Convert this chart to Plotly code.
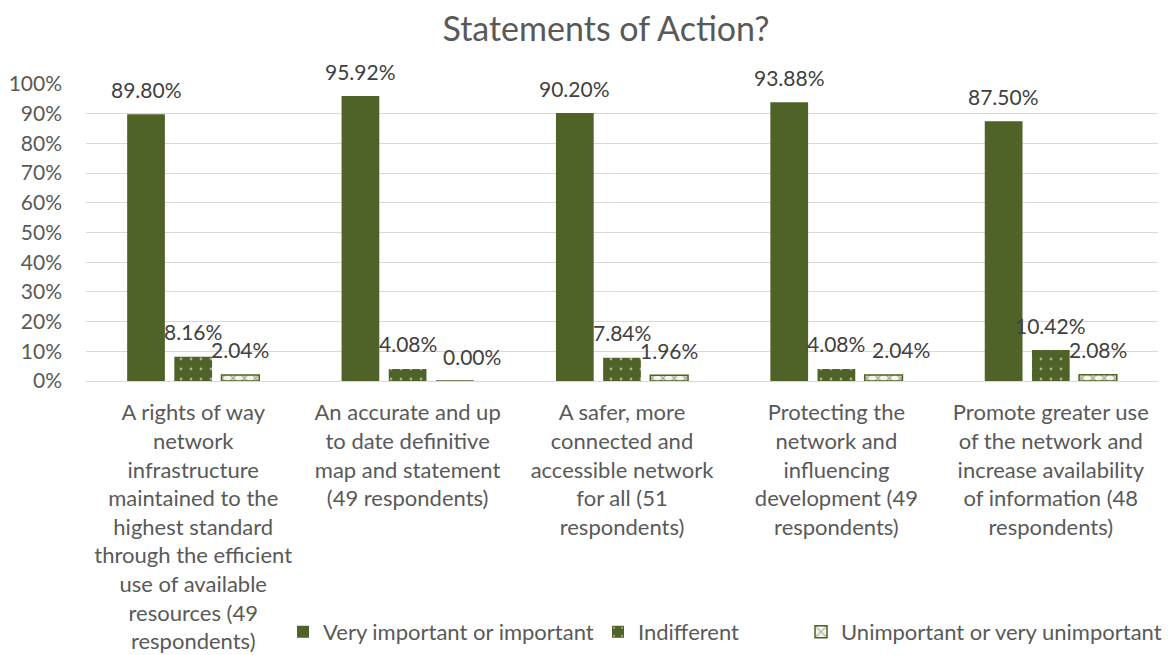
import plotly.graph_objects as go

categories = [
    "A rights of way<br>network<br>infrastructure<br>maintained to the<br>highest standard<br>through the efficient<br>use of available<br>resources (49<br>respondents)",
    "An accurate and up<br>to date definitive<br>map and statement<br>(49 respondents)",
    "A safer, more<br>connected and<br>accessible network<br>for all (51<br>respondents)",
    "Protecting the<br>network and<br>influencing<br>development (49<br>respondents)",
    "Promote greater use<br>of the network and<br>increase availability<br>of information (48<br>respondents)",
]
very_important = [0.8980, 0.9592, 0.9020, 0.9388, 0.8750]
indifferent = [0.0816, 0.0408, 0.0784, 0.0408, 0.1042]
unimportant = [0.0204, 0.0000, 0.0196, 0.0204, 0.0208]
series_names = ["Very important or important", "Indifferent", "Unimportant or very unimportant"]
y_ticks = [i / 10 for i in range(11)]
y_tick_labels = [f"{i*10}%" for i in range(11)]

GREEN = "#4F6228"
FONT = "Lato"
TXT = "#595959"
LBL = "#404040"
LABEL_SIZE = 21

# figure geometry (page body adds an 8px offset)
W, H = 1168, 647
ML, MR, MT, MB = 78, 18, 76, 274
BARGAP, GROUPGAP = 0.34, 0.2

fig = go.Figure()
fig.add_trace(go.Bar(
    x=categories, y=very_important, name=series_names[0], legend="legend",
    marker=dict(color=GREEN, line=dict(width=0)),
))
fig.add_trace(go.Bar(
    x=categories, y=indifferent, name=series_names[1], legend="legend2",
    marker=dict(color=GREEN, line=dict(width=0),
                pattern=dict(shape=".", fgcolor="white", bgcolor=GREEN, size=10, solidity=0.06, fillmode="overlay")),
))
fig.add_trace(go.Bar(
    x=categories, y=unimportant, name=series_names[2], legend="legend3",
    marker=dict(color="white", line=dict(width=1.5, color=GREEN),
                pattern=dict(shape="x", fgcolor=GREEN, bgcolor="#F2F5EC", size=8, solidity=0.3, fillmode="overlay")),
))

# data labels above each bar, following the grouped-bar offsets
plot_w = W - ML - MR
plot_h = H - MT - MB
slot_px = plot_w / len(categories) * (1 - BARGAP) / 3
all_series = [very_important, indifferent, unimportant]
annotations = []
for i, series in enumerate(all_series):
    for j, (cat, v) in enumerate(zip(categories, series)):
        text = f"{v*100:.2f}%"
        extra = 0.0
        if i == 2:
            # nudge right when colliding with the neighbouring label (as the original does)
            prev_text = f"{all_series[1][j]*100:.2f}%"
            dy = (all_series[1][j] - v) * plot_h
            if dy < 15:
                est = 0.56 * LABEL_SIZE
                need = (len(prev_text) + len(text)) * est / 2 + 6 - slot_px
                extra = max(0.0, need)
        annotations.append(dict(
            x=cat, y=v, xref="x", yref="y", text=text, showarrow=False,
            xanchor="center", yanchor="middle", xshift=(i - 1) * slot_px + extra, yshift=25,
            borderpad=0, font=dict(family=FONT, size=LABEL_SIZE, color=LBL),
        ))

legend_common = dict(orientation="h", xanchor="left", y=-0.845, yanchor="middle",
                     font=dict(family=FONT, size=22, color=TXT), itemwidth=30,
                     bgcolor="rgba(0,0,0,0)")

fig.update_layout(
    width=W, height=H,
    paper_bgcolor="white", plot_bgcolor="white",
    barmode="group", bargap=BARGAP, bargroupgap=GROUPGAP,
    margin=dict(l=ML, r=MR, t=MT, b=MB, autoexpand=False),
    font=dict(family=FONT, size=22, color=TXT),
    title=dict(text="Statements of Action?", x=598 / W, xref="container", xanchor="center",
               y=1 - 21 / H, yref="container", yanchor="middle",
               font=dict(family=FONT, size=34, color=TXT)),
    showlegend=True,
    legend=dict(legend_common, x=0.1838),
    legend2=dict(legend_common, x=0.4776),
    legend3=dict(legend_common, x=0.6670),
    annotations=annotations,
)
fig.update_yaxes(range=[0, 1], tickvals=y_ticks, ticktext=y_tick_labels,
                 showgrid=True, gridcolor="#D9D9D9", gridwidth=1, zeroline=False,
                 showline=False, ticks="", ticklabelstandoff=23, automargin=False,
                 tickfont=dict(family=FONT, size=21, color=TXT))
fig.update_xaxes(showline=True, linecolor="#D9D9D9", linewidth=1, ticks="",
                 ticklabelstandoff=12, tickangle=0, automargin=False,
                 tickfont=dict(family=FONT, size=22, color=TXT))

fig.write_html("out.html")
